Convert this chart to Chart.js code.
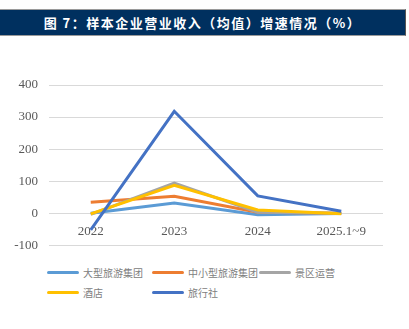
<!DOCTYPE html>
<html>
<head>
<meta charset="utf-8">
<script src="https://cdn.jsdelivr.net/npm/chart.js@4"></script>
<style>
  body { margin: 0; width: 409px; height: 329px; background: #fff; overflow: hidden; position: relative; }
  #title {
    position: absolute; left: 0; top: 9px; width: 405px; height: 25px;
    background: #00305f; border-top: 1px solid #9a9a9a; border-bottom: 1px solid #9a9a9a; border-right: 1px solid #555;
    color: #fff; font: bold 13px "Noto Sans CJK SC", sans-serif; letter-spacing: 1.5px;
    text-align: center; line-height: 25px;
  }
  #wrap { position: absolute; left: 0; top: 40px; width: 409px; height: 224px; }
  #legend { position: absolute; left: 0; top: 264px; width: 409px; height: 40px; }
  .item { position: absolute; font: 10px "Noto Sans CJK SC", sans-serif; color: #808080; white-space: nowrap; }
  .item span.l { position: absolute; left: 0; top: 7px; width: 32px; height: 3px; border-radius: 2px; }
  .item span.t { position: absolute; left: 36px; top: 0; line-height: 17px; }
</style>
</head>
<body>
<div id="title">图 7：样本企业营业收入（均值）增速情况（%）</div>
<div id="wrap"><canvas id="c" width="409" height="224"></canvas></div>
<div id="legend"></div>
<script>
const categories = ['2022', '2023', '2024', '2025.1~9'];
const seriesNames = ['大型旅游集团', '中小型旅游集团', '景区运营', '酒店', '旅行社'];
const largeGroup = [0, 32, -5, -1];
const smallGroup = [34, 53, 3, 0];
const scenic = [-4, 94, 3, 0];
const hotel = [-2, 87, 10, -2];
const travelAgency = [-52, 318, 54, 6];
const yTicks = [-100, 0, 100, 200, 300, 400];

const colors = ['#5b9bd5', '#ed7d31', '#a5a5a5', '#ffc000', '#4472c4'];
const values = [largeGroup, smallGroup, scenic, hotel, travelAgency];

// legend grid like the original (3 columns)
const legendPos = [[47, 0], [152, 0], [259, 0], [47, 20], [152, 20]];
const legend = document.getElementById('legend');
seriesNames.forEach((name, i) => {
  const d = document.createElement('div');
  d.className = 'item';
  d.style.left = legendPos[i][0] + 'px';
  d.style.top = legendPos[i][1] + 'px';
  d.innerHTML = '<span class="l" style="background:' + colors[i] + '"></span><span class="t">' + name + '</span>';
  legend.appendChild(d);
});

const ctx = document.getElementById('c').getContext('2d');
new Chart(ctx, {
  type: 'line',
  data: {
    labels: categories,
    datasets: seriesNames.map((name, i) => ({
      label: name,
      data: values[i],
      borderColor: colors[i],
      backgroundColor: colors[i],
      borderWidth: 3,
      pointRadius: 0,
      tension: 0,
      order: i === 4 ? 0 : 5 - i
    }))
  },
  options: {
    responsive: false,
    animation: false,
    layout: { padding: { left: 0, right: 26, top: 45, bottom: 11 } },
    plugins: { legend: { display: false }, tooltip: { enabled: false } },
    scales: {
      x: {
        position: { y: 0 },
        offset: true,
        grid: { display: false },
        border: { display: false },
        afterFit: s => { s.height = 0; },
        ticks: { color: '#595959', font: { family: 'Liberation Serif', size: 13 }, padding: 3, maxRotation: 0 }
      },
      y: {
        min: -100,
        max: 400,
        afterBuildTicks: axis => { axis.ticks = yTicks.map(v => ({ value: v })); },
        afterFit: s => { s.width = 49; },
        grid: { color: '#d9d9d9', lineWidth: 1, drawTicks: false },
        border: { display: false },
        ticks: { color: '#595959', font: { family: 'Liberation Serif', size: 13 }, padding: 11 }
      }
    }
  }
});
</script>
</body>
</html>
